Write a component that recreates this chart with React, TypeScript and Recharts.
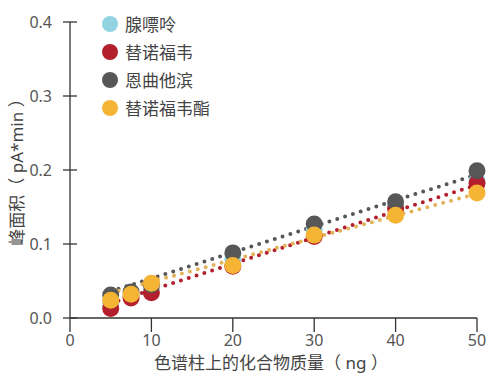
import React from 'react'
import { ComposedChart, Line, Scatter, XAxis, YAxis } from 'recharts'

const masses = [5, 7.5, 10, 20, 30, 40, 50]
const adenine = [0.02, 0.03, 0.04, 0.08, 0.12, 0.15, 0.185]
const tenofovir = [0.013, 0.027, 0.034, 0.07, 0.11, 0.148, 0.182]
const emtricitabine = [0.031, 0.035, 0.045, 0.088, 0.127, 0.157, 0.199]
const taf = [0.024, 0.032, 0.047, 0.071, 0.112, 0.139, 0.169]

// trend line end points (x = 5 and x = 50)
const trendX = [5, 50]
const emtricitabineTrend = [0.036, 0.194]
const tenofovirTrend = [0.02, 0.18]
const tafTrend = [0.034, 0.168]

const xTicks = [0, 10, 20, 30, 40, 50]
const yTicks = [0, 0.1, 0.2, 0.3, 0.4]

const series = [
  { name: '腺嘌呤', color: '#93d2e0', values: adenine },
  { name: '替诺福韦', color: '#b31f2c', values: tenofovir },
  { name: '恩曲他滨', color: '#575757', values: emtricitabine },
  { name: '替诺福韦酯', color: '#f6b434', values: taf },
]

const trends = [
  { color: '#575757', values: emtricitabineTrend },
  { color: '#b31f2c', values: tenofovirTrend },
  { color: '#e3b35a', values: tafTrend },
]

const toPoints = (values: number[]) => masses.map((x, i) => ({ x, y: values[i] }))
const toTrend = (values: number[]) => trendX.map((x, i) => ({ x, y: values[i] }))

const font = '"Noto Sans", "Noto Sans CJK SC", sans-serif'
const axisColor = '#333'

const Dot = (props: any) => {
  const { cx, cy, fill } = props
  if (cx == null || cy == null) return null
  return <circle cx={cx} cy={cy} r={8.5} fill={fill} />
}

const YTick = (props: any) => {
  const { x, y, payload } = props
  return (
    <g>
      <line x1={x + 11} x2={x + 25} y1={y} y2={y} stroke={axisColor} strokeWidth={1.3} />
      <text x={x} y={y} dy="0.35em" textAnchor="end" fontSize={16} fill="#555" fontFamily={font}>
        {Number(payload.value).toFixed(1)}
      </text>
    </g>
  )
}

const XTick = (props: any) => {
  const { x, y, payload } = props
  return (
    <g>
      <line x1={x} x2={x} y1={y - 13} y2={y + 1} stroke={axisColor} strokeWidth={1.3} />
      <text x={x} y={y} dy="0.95em" textAnchor="middle" fontSize={16} fill="#555" fontFamily={font}>
        {payload.value}
      </text>
    </g>
  )
}

export default function App() {
  return (
    <div style={{ position: 'absolute', left: 0, top: 0, width: 496, height: 379, background: '#fff' }}>
      <ComposedChart width={496} height={379} margin={{ top: 22, right: 19, bottom: 31, left: 10 }}>
        <XAxis
          type="number"
          dataKey="x"
          domain={[0, 50]}
          ticks={xTicks}
          tickLine={false}
          tickSize={7}
          tickMargin={6}
          tick={<XTick />}
          axisLine={{ stroke: axisColor, strokeWidth: 1.3 }}
          height={30}
          allowDuplicatedCategory={false}
        />
        <YAxis
          type="number"
          dataKey="y"
          domain={[0, 0.4]}
          ticks={yTicks}
          tickLine={false}
          tickSize={7}
          tickMargin={11}
          tick={<YTick />}
          axisLine={{ stroke: axisColor, strokeWidth: 1.3 }}
          width={60}
        />
        {series.map((s) => (
          <Scatter
            key={s.name}
            data={toPoints(s.values)}
            fill={s.color}
            shape={<Dot />}
            isAnimationActive={false}
          />
        ))}
        {trends.map((t, i) => (
          <Line
            key={i}
            data={toTrend(t.values)}
            dataKey="y"
            type="linear"
            stroke={t.color}
            strokeWidth={4}
            strokeDasharray="0 8.2"
            strokeLinecap="round"
            dot={false}
            activeDot={false}
            isAnimationActive={false}
          />
        ))}
        <text
          x={16}
          y={168}
          transform="rotate(-90 16 168)"
          textAnchor="middle"
          dominantBaseline="central"
          fontSize={17}
          fill="#444"
          fontFamily={font}
        >
          峰面积（ pA*min ）
        </text>
        <text x={271} y={362} textAnchor="middle" dominantBaseline="central" fontSize={17} fill="#444" fontFamily={font}>
          色谱柱上的化合物质量（ ng ）
        </text>
        {series.map((s, i) => (
          <g key={s.name}>
            <circle cx={110} cy={24 + i * 28} r={8} fill={s.color} />
            <text x={125} y={24 + i * 28} dominantBaseline="central" fontSize={17} fill="#444" fontFamily={font}>
              {s.name}
            </text>
          </g>
        ))}
      </ComposedChart>
    </div>
  )
}
